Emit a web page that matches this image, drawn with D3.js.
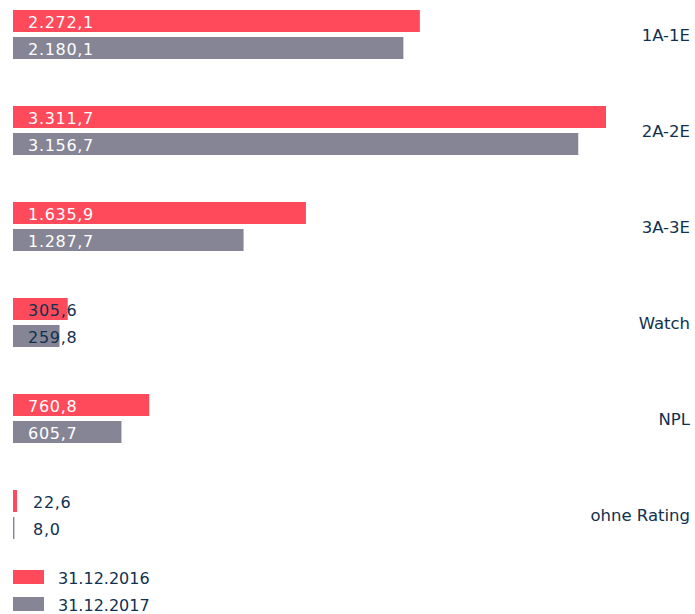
<!DOCTYPE html>
<html>
<head>
<meta charset="utf-8">
<script src="https://cdn.jsdelivr.net/npm/d3@7"></script>
<style>
  body { margin: 0; background: #fff; }
  text { font-family: "DejaVu Sans", sans-serif; }
</style>
</head>
<body>
<div id="chart"></div>
<script>
// Ratingklassen
var categories = ["1A-1E", "2A-2E", "3A-3E", "Watch", "NPL", "ohne Rating"];
var series2016 = [2272.1, 3311.7, 1635.9, 305.6, 760.8, 22.6];
var series2017 = [2180.1, 3156.7, 1287.7, 259.8, 605.7, 8.0];
var seriesNames = ["31.12.2016", "31.12.2017"];
var colors = ["#fe4a5a", "#858596"];

var width = 695, height = 614;
var textColor = "#10314f";

var fmt = function(v) {
  // deutsches Zahlenformat 2.272,1
  return d3.format(",.1f")(v).replace(/,/g, "#").replace(".", ",").replace(/#/g, ".");
};

var svg = d3.select("#chart").append("svg")
  .attr("width", width)
  .attr("height", height);

var x = d3.scaleLinear().domain([0, 3311.7]).range([13, 606]);
var y0 = d3.scaleBand().domain(categories).range([10, 586]).paddingInner(0).paddingOuter(0);
// inner offsets of the two bars inside a group
var barH = 22, gap = 5;

var data = categories.map(function(c, i) {
  return { cat: c, vals: [series2016[i], series2017[i]] };
});

var group = svg.selectAll(".grp")
  .data(data)
  .enter().append("g")
  .attr("class", "grp")
  .attr("transform", function(d) { return "translate(0," + y0(d.cat) + ")"; });

group.each(function(d) {
  var g = d3.select(this);
  d.vals.forEach(function(v, si) {
    var top = si * (barH + gap);
    var w = x(v) - x(0);
    g.append("rect")
      .attr("x", x(0))
      .attr("y", top)
      .attr("width", w)
      .attr("height", barH)
      .attr("fill", colors[si]);

    var tx = w > 40 ? x(0) + 15 : Math.max(x(v) + 15, x(0) + 20);
    var lbl = g.append("text")
      .attr("x", tx).attr("y", top + barH / 2 + 1)
      .attr("dominant-baseline", "central")
      .attr("font-size", 16)
      .attr("letter-spacing", 0.7)
      .text(fmt(v));
    // weiss nur wenn die Zahl komplett in den Balken passt
    var fits = tx + lbl.node().getComputedTextLength() + 5 < x(v);
    lbl.attr("fill", fits ? "#fff" : textColor);
  });

  g.append("text")
    .attr("x", 690)
    .attr("y", barH + gap / 2 + 1)
    .attr("text-anchor", "end")
    .attr("dominant-baseline", "central")
    .attr("font-size", 16.5)
    .attr("fill", textColor)
    .text(d.cat);
});

// Legende
var legend = svg.selectAll(".legend")
  .data(seriesNames)
  .enter().append("g")
  .attr("class", "legend")
  .attr("transform", function(d, i) { return "translate(13," + (570 + i * 27) + ")"; });

legend.append("rect")
  .attr("width", 31)
  .attr("height", 14)
  .attr("fill", function(d, i) { return colors[i]; });

legend.append("text")
  .attr("x", 45)
  .attr("y", 8)
  .attr("dominant-baseline", "central")
  .attr("font-size", 16)
  .attr("fill", textColor)
  .text(function(d) { return d; });
</script>
</body>
</html>
